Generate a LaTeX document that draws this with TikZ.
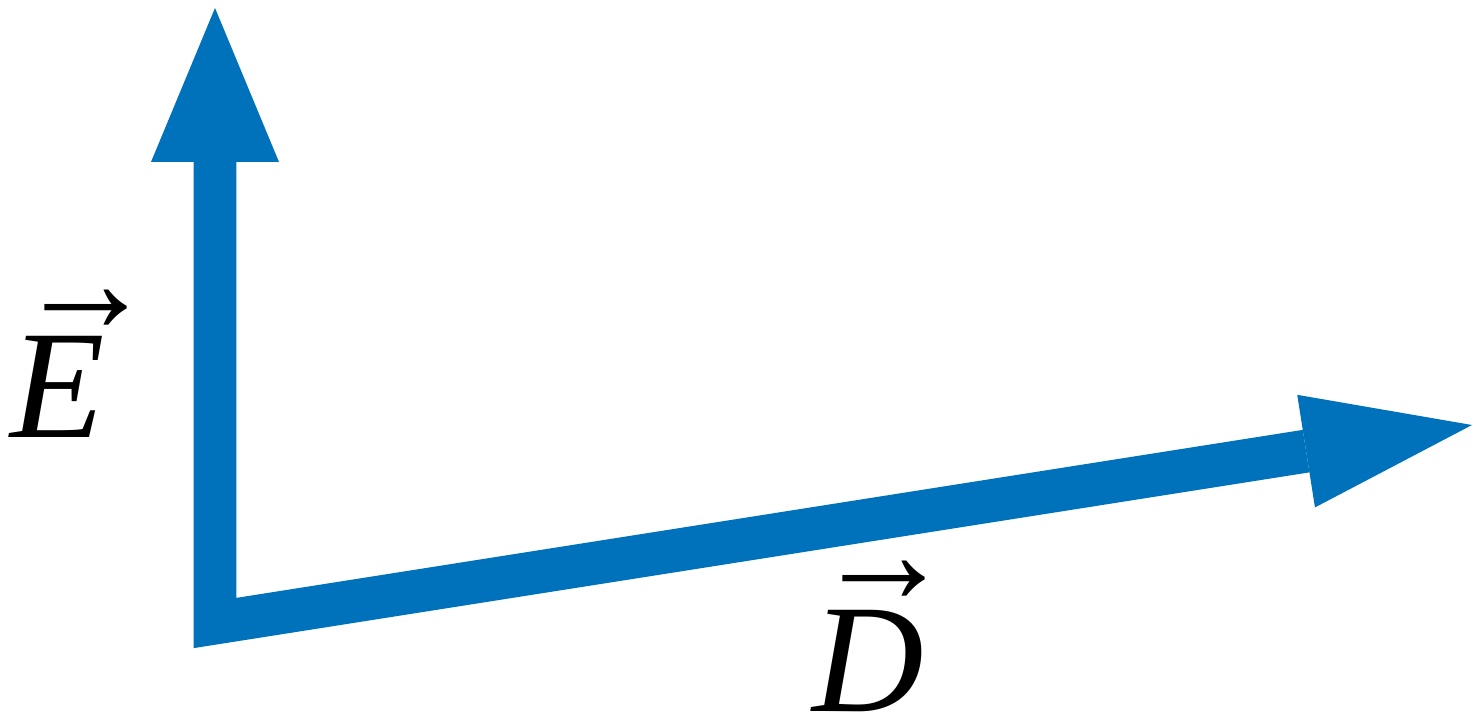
\documentclass[tikz,border=0pt]{standalone}
\usepackage{graphicx}
\usepackage{fontspec}
\setmainfont{Liberation Serif}
\usetikzlibrary{arrows.meta}

\definecolor{fieldblue}{RGB}{0,114,188}

% vector letter with a thin arrow above it
\newcommand{\vecsym}[3]{\textit{#1}\hspace*{#2}\llap{\raisebox{#3}{\resizebox*{2.78cm}{0.85cm}{→}}}}

\begin{document}
\begin{tikzpicture}[
    x=0.02cm, y=0.02cm,
    vec/.style={fieldblue, line width=0.86cm, line join=miter},
    veclabel/.style={inner sep=0pt, font=\fontsize{88}{92}\selectfont}
]

% frame (pixel grid of the reference)
\useasboundingbox (0,0) rectangle (1473,717);

% corner and tips
\coordinate (O) at (215,94);
\coordinate (Etip) at (215,709);
\coordinate (Dtip) at (1472,292);

% ---------- Vectors ----------
\draw[vec,
    {Triangle[length=3.08cm, width=2.56cm, line width=0pt]}-{Triangle[length=3.36cm, width=2.28cm, line width=0pt]}]
    (Etip) -- (O) -- (Dtip);

% ---------- Labels ----------
\node[veclabel, anchor=base west] (Elabel) at (10,279) {\vecsym{E}{1.02cm}{2.12cm}};
\node[veclabel, anchor=base west] (Dlabel) at (812,6) {\vecsym{D}{0.58cm}{2.15cm}};

\end{tikzpicture}
\end{document}
